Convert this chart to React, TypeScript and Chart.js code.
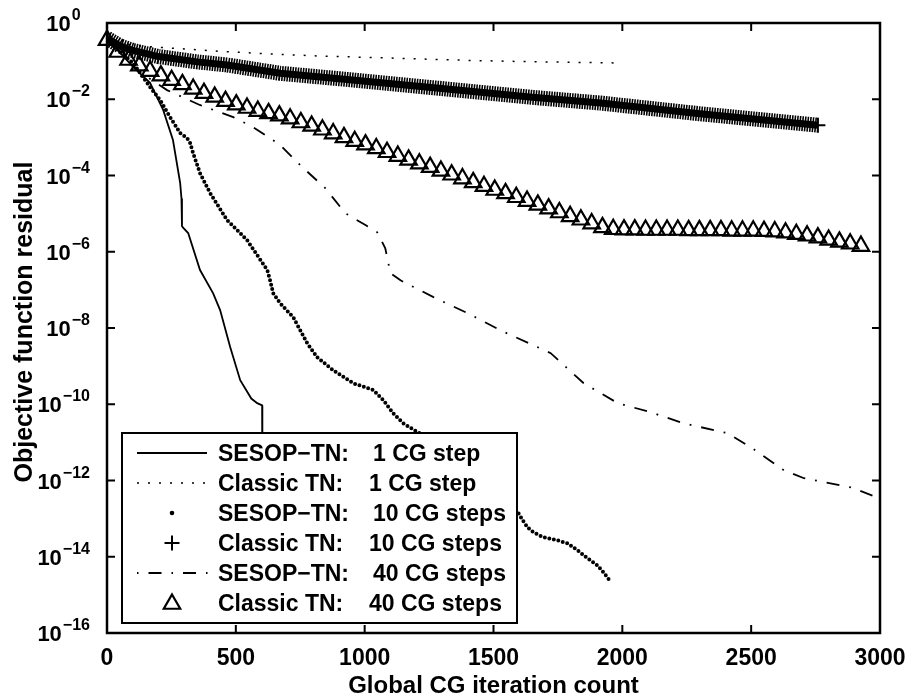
import React, { useEffect, useRef } from 'react';
import { Chart, registerables } from 'chart.js';

Chart.register(...registerables);

// ---------- axes ----------
const xTicks = [0, 500, 1000, 1500, 2000, 2500, 3000];
const yTickExponents = [0, -2, -4, -6, -8, -10, -12, -14, -16];

// ---------- legend ----------
const legendLabels = ['SESOP\u2212TN:', 'Classic TN:', 'SESOP\u2212TN:', 'Classic TN:', 'SESOP\u2212TN:', 'Classic TN:'];
const legendSteps = ['1 CG step', '1 CG step', '10 CG steps', '10 CG steps', '40 CG steps', '40 CG steps'];

// ---------- data (x: global CG iterations, values: log10 of residual) ----------
// SESOP-TN, 1 CG step (solid)
const sesop1Iter = [0, 30, 60, 101, 167, 218, 256, 284, 289, 291, 297, 315, 361, 412, 439, 478, 517, 560, 583, 602, 603];
const sesop1Log = [-0.42, -0.62, -0.85, -1.15, -1.57, -2.28, -3.07, -4.2, -4.6, -5.33, -5.38, -5.51, -6.48, -7.09, -7.53, -8.5, -9.37, -9.85, -9.97, -10.03, -12.5];

// Classic TN, 1 CG step (dotted)
const classic1Iter = [0, 50, 100, 160, 300, 430, 600, 800, 1000, 1200, 1400, 1600, 1800, 2000];
const classic1Log = [-0.40, -0.52, -0.58, -0.62, -0.68, -0.74, -0.80, -0.86, -0.90, -0.94, -0.98, -1.01, -1.03, -1.05];

// SESOP-TN, 10 CG steps (dots)
const sesop10Iter = [0, 51, 101, 167, 206, 245, 284, 311, 323, 334, 361, 400, 466, 505, 544, 583, 622, 633, 645, 672, 723, 750, 777, 816, 878, 956, 1034, 1073, 1111, 1150, 1205, 1333, 1450, 1597, 1613, 1632, 1655, 1694, 1749, 1788, 1826, 1865, 1904, 1927, 1947];
const sesop10Log = [-0.45, -0.76, -1.05, -1.68, -2.02, -2.47, -2.89, -3.02, -3.15, -3.41, -3.94, -4.46, -5.17, -5.43, -5.70, -6.09, -6.48, -6.75, -7.09, -7.35, -7.72, -8.06, -8.40, -8.77, -9.11, -9.45, -9.63, -9.90, -10.24, -10.50, -10.73, -11.2, -11.86, -12.86, -13.04, -13.23, -13.36, -13.49, -13.57, -13.65, -13.83, -14.04, -14.23, -14.41, -14.59];

// Classic TN, 10 CG steps ('+' band)
const classic10Iter = [0, 50, 100, 200, 350, 466, 672, 900, 1300, 1650, 1916, 2300, 2759];
const classic10Log = [-0.40, -0.60, -0.72, -0.88, -1.02, -1.10, -1.32, -1.46, -1.72, -1.95, -2.10, -2.38, -2.68];

// SESOP-TN, 40 CG steps (dash-dot)
const sesop40Iter = [0, 60, 130, 233, 360, 490, 567, 672, 750, 847, 925, 1003, 1049, 1080, 1100, 1139, 1267, 1399, 1527, 1722, 1850, 1982, 2110, 2238, 2409, 2499, 2627, 2705, 2887, 3000];
const sesop40Log = [-0.42, -0.85, -1.3, -1.76, -2.15, -2.47, -2.73, -3.2, -3.73, -4.33, -4.99, -5.30, -5.49, -5.91, -6.56, -6.75, -7.19, -7.61, -8.06, -8.66, -9.45, -9.97, -10.21, -10.50, -10.76, -11.13, -11.73, -11.94, -12.18, -12.47];

// Classic TN, 40 CG steps (triangles, one per outer iteration)
const classic40Step = 41.8;
const classic40Log = [
  -0.45, -0.76, -0.97, -1.12, -1.26, -1.38, -1.50, -1.61, -1.73, -1.84,
  -1.94, -2.05, -2.14, -2.23, -2.31, -2.37, -2.43, -2.51, -2.61, -2.70,
  -2.80, -2.90, -3.00, -3.10, -3.19, -3.29, -3.39, -3.49, -3.59, -3.69,
  -3.78, -3.88, -3.98, -4.08, -4.18, -4.28, -4.38, -4.47, -4.57, -4.67,
  -4.77, -4.87, -4.97, -5.07, -5.16, -5.26, -5.36, -5.41, -5.42, -5.42,
  -5.43, -5.43, -5.43, -5.43, -5.44, -5.44, -5.44, -5.44, -5.45, -5.45,
  -5.45, -5.46, -5.47, -5.50, -5.54, -5.58, -5.63, -5.69, -5.74, -5.79,
  -5.85,
];

const FONT = '"Liberation Sans", Arial, Helvetica, sans-serif';

function pts(iters: number[], logs: number[]) {
  return iters.map((x, i) => ({ x, y: Math.pow(10, logs[i]) }));
}

function triPath(ctx: CanvasRenderingContext2D, xc: number, yc: number, r: number) {
  ctx.beginPath();
  ctx.moveTo(xc, yc - r);
  ctx.lineTo(xc + r * Math.sin(2 * Math.PI / 3), yc - r * Math.cos(2 * Math.PI / 3));
  ctx.lineTo(xc + r * Math.sin(4 * Math.PI / 3), yc - r * Math.cos(4 * Math.PI / 3));
  ctx.closePath();
}

const framePlugin = {
  id: 'matlabFrame',
  afterDatasetsDraw(chart: any) {
    const { ctx, chartArea: a } = chart;
    const xs = chart.scales.x;
    const ys = chart.scales.y;
    ctx.save();
    ctx.setLineDash([]);
    ctx.strokeStyle = '#000';
    ctx.lineWidth = 2;
    ctx.beginPath();
    xTicks.forEach((v) => {
      const px = xs.getPixelForValue(v);
      ctx.moveTo(px, a.bottom);
      ctx.lineTo(px, a.bottom - 8);
      ctx.moveTo(px, a.top);
      ctx.lineTo(px, a.top + 8);
    });
    yTickExponents.forEach((e) => {
      const py = ys.getPixelForValue(Math.pow(10, e));
      ctx.moveTo(a.left, py);
      ctx.lineTo(a.left + 8, py);
      ctx.moveTo(a.right, py);
      ctx.lineTo(a.right - 8, py);
    });
    ctx.stroke();
    ctx.lineWidth = 2.5;
    ctx.strokeRect(a.left, a.top, a.right - a.left, a.bottom - a.top);

    ctx.fillStyle = '#000';
    ctx.textBaseline = 'alphabetic';
    ctx.font = `bold 23px ${FONT}`;
    ctx.textAlign = 'center';
    xTicks.forEach((v) => {
      ctx.fillText(String(v), xs.getPixelForValue(v), a.bottom + 32);
    });

    const right = a.left - 17;
    ctx.font = `bold 16px ${FONT}`;
    const minW = ctx.measureText('\u22120').width;
    yTickExponents.forEach((e) => {
      const py = ys.getPixelForValue(Math.pow(10, e));
      const exp = e === 0 ? '0' : '\u2212' + String(-e);
      ctx.font = `bold 16px ${FONT}`;
      const ew = Math.max(ctx.measureText(exp).width, minW);
      ctx.textAlign = 'left';
      ctx.fillText(exp, right - ew, py - 3);
      ctx.font = `bold 22px ${FONT}`;
      ctx.textAlign = 'right';
      ctx.fillText('10', right - ew - 1, py + 8);
    });

    ctx.font = `bold 24px ${FONT}`;
    ctx.textAlign = 'center';
    ctx.fillText('Global CG iteration count', (a.left + a.right) / 2, 693);
    ctx.save();
    ctx.translate(32, (a.top + a.bottom) / 2 - 6);
    ctx.rotate(-Math.PI / 2);
    ctx.font = `bold 25px ${FONT}`;
    ctx.fillText('Objective function residual', 0, 0);
    ctx.restore();
    ctx.restore();
  },
};

const legendPlugin = {
  id: 'matlabLegend',
  afterDraw(chart: any) {
    const ctx = chart.ctx;
    const L = 122, T = 433, R = 517, B = 623;
    ctx.save();
    ctx.setLineDash([]);
    ctx.fillStyle = '#fff';
    ctx.fillRect(L, T, R - L, B - T);
    ctx.lineWidth = 2;
    ctx.strokeStyle = '#000';
    ctx.strokeRect(L, T, R - L, B - T);
    const x0 = 137, x1 = 207, xc = 172;
    for (let i = 0; i < 6; i++) {
      const yc = T + 20 + 30 * i;
      ctx.strokeStyle = '#000';
      ctx.fillStyle = '#000';
      ctx.setLineDash([]);
      ctx.lineWidth = 1.8;
      ctx.lineCap = 'butt';
      if (i === 0) {
        ctx.beginPath(); ctx.moveTo(x0, yc); ctx.lineTo(x1, yc); ctx.stroke();
      } else if (i === 1) {
        ctx.lineWidth = 1.5;
        ctx.setLineDash([2, 9]);
        ctx.beginPath(); ctx.moveTo(x0, yc); ctx.lineTo(x1, yc); ctx.stroke();
      } else if (i === 2) {
        ctx.beginPath(); ctx.arc(xc, yc, 2.3, 0, Math.PI * 2); ctx.fill();
      } else if (i === 3) {
        ctx.lineWidth = 2;
        ctx.beginPath();
        ctx.moveTo(xc - 7.5, yc); ctx.lineTo(xc + 7.5, yc);
        ctx.moveTo(xc, yc - 7.5); ctx.lineTo(xc, yc + 7.5);
        ctx.stroke();
      } else if (i === 4) {
        ctx.setLineDash([1.5, 10, 13, 10]);
        ctx.beginPath(); ctx.moveTo(x0, yc); ctx.lineTo(x1 + 1, yc); ctx.stroke();
      } else {
        ctx.lineWidth = 2.2;
        triPath(ctx, xc, yc + 1, 9.5);
        ctx.stroke();
      }
      ctx.setLineDash([]);
      ctx.font = `bold 23px ${FONT}`;
      ctx.textAlign = 'left';
      ctx.textBaseline = 'alphabetic';
      ctx.fillText(legendLabels[i], 218, yc + 8);
      ctx.fillText(legendSteps[i], i % 2 === 0 ? 373 : 369, yc + 8);
    }
    ctx.restore();
  },
};

export default function App() {
  const canvasRef = useRef<HTMLCanvasElement | null>(null);

  useEffect(() => {
    const canvas = canvasRef.current;
    if (!canvas) return;
    const classic10Pts = pts(classic10Iter, classic10Log);
    const lastC10 = classic10Pts.length - 1;
    const chart = new Chart(canvas, {
      type: 'line',
      data: {
        datasets: [
          {
            label: 'SESOP-TN: 1 CG step',
            data: pts(sesop1Iter, sesop1Log),
            borderColor: '#000',
            borderWidth: 1.8,
            pointRadius: 0,
            tension: 0,
          },
          {
            label: 'Classic TN: 1 CG step',
            data: pts(classic1Iter, classic1Log),
            borderColor: '#000',
            borderWidth: 1.5,
            borderDash: [2, 9],
            pointRadius: 0,
          },
          {
            label: 'SESOP-TN: 10 CG steps',
            data: pts(sesop10Iter, sesop10Log),
            borderColor: '#000',
            borderWidth: 4,
            borderDash: [0, 4.6],
            borderCapStyle: 'round',
            pointRadius: 0,
          },
          {
            label: 'Classic TN: 10 CG steps (hatch)',
            data: classic10Pts,
            borderColor: '#000',
            borderWidth: 15,
            borderDash: [1.6, 1],
            borderCapStyle: 'butt',
            pointRadius: 0,
          },
          {
            label: 'Classic TN: 10 CG steps',
            data: classic10Pts,
            borderColor: '#000',
            borderWidth: 7,
            pointStyle: 'cross',
            pointRadius: (c: any) => (c.dataIndex === lastC10 ? 7.5 : 0),
            pointBorderWidth: 2,
            pointBorderColor: '#000',
          },
          {
            label: 'SESOP-TN: 40 CG steps',
            data: pts(sesop40Iter, sesop40Log),
            borderColor: '#000',
            borderWidth: 1.8,
            borderDash: [13, 10, 1.8, 10],
            pointRadius: 0,
          },
          {
            label: 'Classic TN: 40 CG steps',
            data: classic40Log.map((v, i) => ({ x: i * classic40Step, y: Math.pow(10, v) })),
            showLine: false,
            pointStyle: 'triangle',
            pointRadius: 9.5,
            pointBorderWidth: 2.2,
            pointBorderColor: '#000',
            pointBackgroundColor: 'rgba(0,0,0,0)',
            clip: false,
          },
        ],
      },
      options: {
        animation: false,
        responsive: false,
        devicePixelRatio: 1,
        layout: { padding: { left: 107, top: 23, right: 32, bottom: 67 } },
        plugins: { legend: { display: false }, tooltip: { enabled: false } },
        events: [],
        scales: {
          x: { type: 'linear', min: 0, max: 3000, display: false },
          y: { type: 'logarithmic', min: 1e-16, max: 1, display: false },
        },
      },
      plugins: [framePlugin, legendPlugin],
    } as any);
    return () => chart.destroy();
  }, []);

  return (
    <div style={{ position: 'absolute', left: 0, top: 0, width: 912, height: 700, background: '#fff' }}>
      <canvas ref={canvasRef} width={912} height={700} style={{ width: 912, height: 700, display: 'block' }} />
    </div>
  );
}
